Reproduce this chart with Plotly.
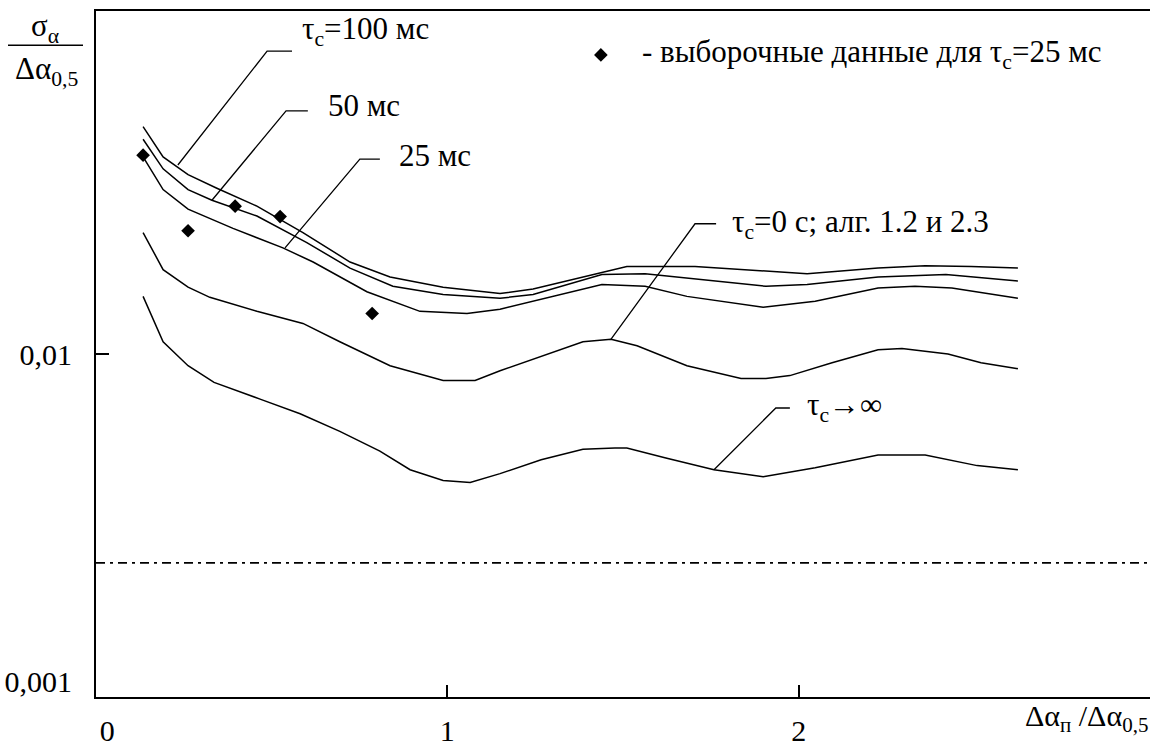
import plotly.graph_objects as go

FONT = "Liberation Serif, Times New Roman, serif"
FS = 31      # annotation text
FS_TICK = 30  # tick labels

# ---- data (x = Δα_п/Δα_0,5, y = σ_α/Δα_0,5) ----
x_100 = [0.134, 0.191, 0.262, 0.344, 0.458, 0.589, 0.723, 0.837, 0.988, 1.150, 1.244,
         1.440, 1.511, 1.705, 2.024, 2.226, 2.360, 2.491, 2.624]
y_100 = [0.0495, 0.0400, 0.0353, 0.0321, 0.0283, 0.0235, 0.0191, 0.0172, 0.0160, 0.0153, 0.0158,
         0.0178, 0.0185, 0.0185, 0.0176, 0.0183, 0.0186, 0.0185, 0.0183]

x_50 = [0.134, 0.191, 0.262, 0.330, 0.458, 0.524, 0.600, 0.723, 0.845, 0.988, 1.150, 1.244,
        1.440, 1.563, 1.907, 2.024, 2.226, 2.419, 2.624]
y_50 = [0.0453, 0.0368, 0.0318, 0.0295, 0.0264, 0.0242, 0.0219, 0.0183, 0.0161, 0.0152, 0.0148, 0.0152,
        0.0175, 0.0176, 0.0161, 0.0163, 0.0172, 0.0175, 0.0167]

x_25 = [0.134, 0.191, 0.262, 0.390, 0.532, 0.618, 0.771, 0.922, 1.056, 1.150, 1.440, 1.563,
        1.682, 1.899, 2.047, 2.226, 2.331, 2.436, 2.624]
y_25 = [0.0400, 0.0318, 0.0277, 0.0242, 0.0211, 0.0191, 0.0155, 0.0135, 0.0133, 0.0137, 0.0163, 0.0161,
        0.0150, 0.0139, 0.0145, 0.0159, 0.0161, 0.0159, 0.0148]

x_0 = [0.134, 0.191, 0.262, 0.324, 0.458, 0.589, 0.694, 0.837, 0.988, 1.079, 1.150, 1.267, 1.386,
       1.466, 1.540, 1.682, 1.836, 1.907, 1.975, 2.095, 2.226, 2.294, 2.425, 2.519, 2.624]
y_0 = [0.0235, 0.0181, 0.0160, 0.0149, 0.0135, 0.0124, 0.0109, 0.00921, 0.00830, 0.00830, 0.00889,
       0.00986, 0.0109, 0.0111, 0.0106, 0.00921, 0.00842, 0.00842, 0.00859, 0.00940, 0.0103, 0.0104,
       0.0100, 0.00940, 0.00902]

x_inf = [0.134, 0.191, 0.262, 0.336, 0.467, 0.581, 0.694, 0.808, 0.894, 0.988, 1.065, 1.150, 1.267,
         1.386, 1.477, 1.511, 1.622, 1.759, 1.899, 2.047, 2.226, 2.360, 2.508, 2.624]
y_inf = [0.0150, 0.0109, 0.00921, 0.00819, 0.00728, 0.00657, 0.00580, 0.00505, 0.00443, 0.00411,
         0.00405, 0.00431, 0.00475, 0.00512, 0.00516, 0.00516, 0.00481, 0.00443, 0.00422, 0.00449,
         0.00491, 0.00491, 0.00456, 0.00443]

x_sample = [0.134, 0.262, 0.396, 0.524, 0.786]
y_sample = [0.0405, 0.0238, 0.0283, 0.0263, 0.0133]

level_x = [0.0, 3.0]
level_y = [0.0023, 0.0023]

# leader lines (label end -> corner -> curve)
leaders = {
    "100": ([0.558, 0.487, 0.233], [0.0842, 0.0842, 0.0378]),
    "50": ([0.603, 0.541, 0.330], [0.0553, 0.0553, 0.0295]),
    "25": ([0.808, 0.751, 0.538], [0.0394, 0.0394, 0.0211]),
    "0": ([1.765, 1.705, 1.466], [0.0250, 0.0250, 0.0111]),
    "inf": ([1.975, 1.935, 1.759], [0.00684, 0.00684, 0.00443]),
}

x_tickvals = [0, 1, 2]
x_ticktext = ["\u00a0\u00a0\u00a00", "1", "2"]
y_tickvals = [0.001, 0.01]
y_ticktext = ["0,001", "0,01"]

legend_marker_x = [1.437]
legend_marker_y = [0.0820]

# ---- figure geometry ----
W, H = 1150, 747
L, R, T, B = 96, 0, 11, 36


def pxx(x):
    return (x - L) / (W - L - R)


def pxy(y):
    return (H - B - y) / (H - T - B)


fig = go.Figure()
line_style = dict(color="black", width=1.5)
for xs, ys in [(x_100, y_100), (x_50, y_50), (x_25, y_25), (x_0, y_0), (x_inf, y_inf)]:
    fig.add_trace(go.Scatter(x=xs, y=ys, mode="lines", line=line_style, showlegend=False,
                             hoverinfo="skip"))

for key, (lx, ly) in leaders.items():
    fig.add_trace(go.Scatter(x=lx, y=ly, mode="lines", line=dict(color="black", width=1.3),
                             showlegend=False, hoverinfo="skip"))

fig.add_trace(go.Scatter(x=x_sample, y=y_sample, mode="markers",
                         marker=dict(symbol="diamond", size=10.5, color="black"),
                         showlegend=False))
fig.add_trace(go.Scatter(x=legend_marker_x, y=legend_marker_y, mode="markers",
                         marker=dict(symbol="diamond", size=10.5, color="black"),
                         showlegend=False))

fig.add_trace(go.Scatter(x=level_x, y=level_y, mode="lines",
                         line=dict(color="black", width=1.8, dash="9px,5px,3px,5px"),
                         showlegend=False, hoverinfo="skip"))

# tick at 0,01 on y axis
fig.add_trace(go.Scatter(x=[0, 0.037], y=[0.01, 0.01], mode="lines",
                         line=dict(color="black", width=2), showlegend=False, hoverinfo="skip"))

ann = []


def text(t, x, y, xanchor="left", size=FS):
    ann.append(dict(text=t, x=pxx(x), y=pxy(y), xref="paper", yref="paper", showarrow=False,
                    xanchor=xanchor, yanchor="middle", font=dict(family=FONT, size=size, color="black")))


text("τ<sub>c</sub>=100 мс", 300, 31)
text("50 мс", 326, 107)
text("25 мс", 397, 158)
text("τ<sub>c</sub>=0 с; алг. 1.2 и 2.3", 730, 228)
text("τ<sub>c</sub>→∞", 805, 415)
text("- выборочные данные для τ<sub>c</sub>=25 мс", 640, 55)
text("σ<sub>α</sub>", 45, 28, xanchor="center")
text("Δα<sub>0,5</sub>", 46, 72, xanchor="center")
text("Δα<sub>п</sub> /Δα<sub>0,5</sub>", 1150, 732, xanchor="right", size=FS_TICK)

fig.update_layout(
    width=W, height=H,
    margin=dict(l=L, r=R, t=T, b=B, pad=0),
    paper_bgcolor="white", plot_bgcolor="white",
    annotations=ann,
    shapes=[dict(type="line", xref="paper", yref="paper", x0=pxx(8), x1=pxx(83), y0=pxy(46), y1=pxy(46),
                 line=dict(color="black", width=1.5))],
    font=dict(family=FONT, size=FS, color="black"),
)
fig.update_xaxes(range=[0, 3.0], showgrid=False, zeroline=False, showline=True, linecolor="black",
                 linewidth=2, mirror=True, ticks="inside", ticklen=12, tickwidth=1.5, tickcolor="black",
                 tickvals=x_tickvals, ticktext=x_ticktext, ticklabelstandoff=6,
                 tickfont=dict(family=FONT, size=FS_TICK))
fig.update_yaxes(type="log", range=[-3.048, -0.952], showgrid=False, zeroline=False, showline=True,
                 linecolor="black", linewidth=2, ticks="", tickvals=y_tickvals, ticktext=y_ticktext,
                 ticklabelstandoff=16, tickfont=dict(family=FONT, size=FS_TICK))

fig.write_html("out.html", config={"displayModeBar": False},
               post_script="document.body.style.margin='0';document.body.style.overflow='hidden';")
